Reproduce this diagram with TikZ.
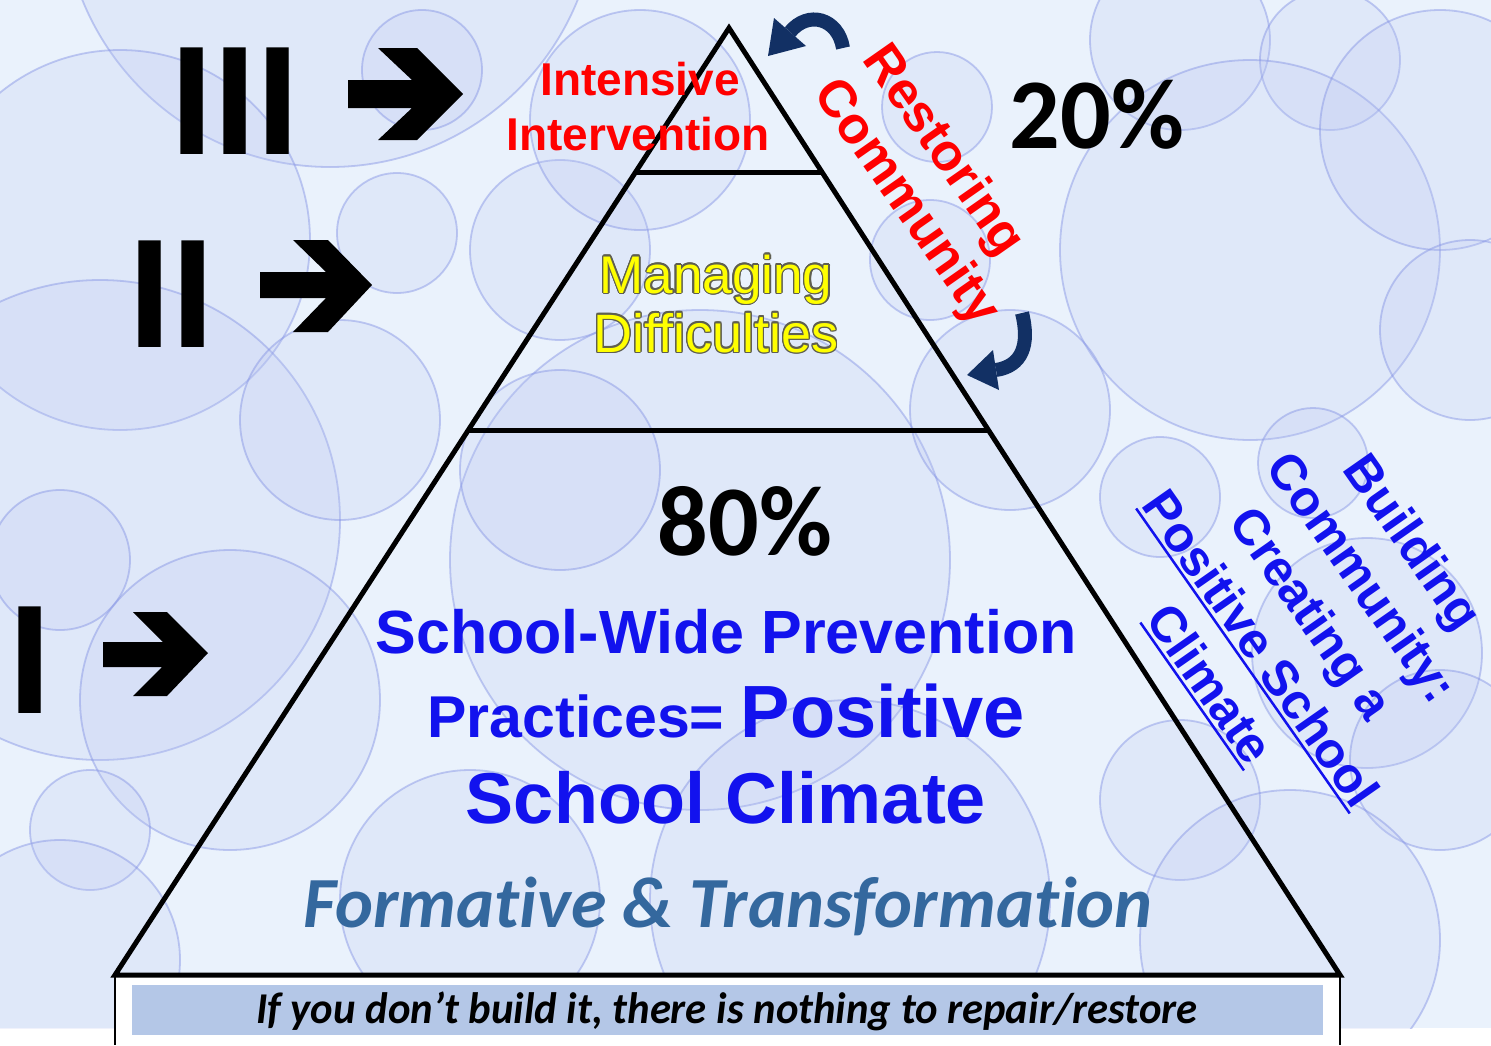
\documentclass[tikz,border=0pt]{standalone}
\usepackage{fontspec}
\usepackage{contour}
\setmainfont{Liberation Sans}
\newfontfamily\calib[Ligatures=NoCommon]{Carlito}
\usetikzlibrary{calc}
\definecolor{bgblue}{RGB}{234,242,252}
\definecolor{bubfill}{RGB}{188,200,242}
\definecolor{bubline}{RGB}{130,145,228}
\definecolor{tblue}{RGB}{18,18,238}
\definecolor{fblue}{RGB}{52,104,158}
\definecolor{navy}{RGB}{18,48,100}
\definecolor{banner}{RGB}{180,199,231}
\definecolor{tred}{RGB}{255,0,0}
\definecolor{tyellow}{RGB}{255,255,0}
\definecolor{outl}{RGB}{95,95,80}
\newcommand\myul[1]{\setbox0\hbox{#1}\rlap{\rule[-6pt]{\wd0}{2.5pt}}\box0}
\newcommand\fsz[2]{\fontsize{#1}{#2}\selectfont}
\contourlength{1.4pt}
\begin{document}
\begin{tikzpicture}[x=1pt,y=-1pt, line join=miter,
  bubble/.style={fill=bubfill, fill opacity=0.22, draw=bubline, draw opacity=0.45, line width=1.8pt},
  tier/.style={line width=5pt, draw=black},
  lbl/.style={inner sep=0pt, anchor=base},
  blockarrow/.style={fill=black},
  curv/.style={draw=navy, line width=14pt},
  ]
\useasboundingbox (0,0) rectangle (1491,1045);
\fill[white] (0,0) rectangle (1491,1045);
\fill[bgblue] (0,0) rectangle (1491,1028);
\begin{scope}
\clip (0,0) rectangle (1491,1028);
\foreach \x/\y/\r in {330/-100/267, 120/240/190, 100/520/240, 422/70/60, 397/233/60,
  340/420/100, 60/560/70, 230/700/150, 90/830/60, 60/960/120, 1180/40/90, 1330/60/70,
  1250/250/190, 1440/130/120, 1470/330/90, 1160/497/60, 1313/463/55, 1367/653/115,
  1180/800/80, 1440/760/90, 937/107/55, 930/260/60, 700/560/250, 560/470/100,
  850/900/200, 1010/410/100, 560/250/90, 1290/940/150, 640/120/110, 470/900/130}
  \draw[bubble] (\x,\y) circle[radius=\r];
\end{scope}

% bottom box and banner
\fill[white] (115,975) rectangle (1340,1045);
\draw[line width=1.5pt] (115,975) -- (115,1045);
\draw[line width=1.5pt] (1340,975) -- (1340,1045);
\fill[banner] (132,985) rectangle (1323,1035);
\node[lbl, font={\calib\fsz{44}{44}\bfseries\itshape}, xscale=0.97] (motto) at (727,1023) {If you don’t build it, there is nothing to repair/restore};

% pyramid
\coordinate (A) at (729,28);
\coordinate (L) at (115,975);
\coordinate (R) at (1340,975);
\draw[tier] (A) -- (L) -- (R) -- cycle;
\draw[tier] ($(A)!0.1531!(L)$) -- ($(A)!0.1531!(R)$);
\draw[tier] ($(A)!0.4245!(L)$) -- ($(A)!0.4245!(R)$);

% roman numerals
\node[lbl, anchor=base west, font={\fsz{155}{155}\bfseries}] (n3) at (170,154) {III};
\node[lbl, anchor=base west, font={\fsz{155}{155}\bfseries}] (n2) at (128,347) {II};
\node[lbl, anchor=base west, font={\fsz{155}{155}\bfseries}] (n1) at (8,713) {I};

% block arrows
\fill[blockarrow] (348,80) -- (412,80) -- (378,48) -- (417,48) -- (463,94) -- (417,140) -- (378,140) -- (412,108) -- (348,108) -- cycle;
\fill[blockarrow] (260,272) -- (326,272) -- (293,240) -- (328,240) -- (372,285) -- (328,332) -- (293,332) -- (326,298) -- (260,298) -- cycle;
\fill[blockarrow] (103,642) -- (163,642) -- (133,612) -- (167,612) -- (208,653) -- (167,696) -- (133,696) -- (162,667) -- (103,667) -- cycle;

% tier texts
\node[lbl, text=tred, font={\fsz{46}{50}\bfseries}] (int1) at (640,95) {Intensive};
\node[lbl, text=tred, font={\fsz{46}{50}\bfseries}] (int2) at (638,150) {Intervention};
\node[lbl, text=tyellow, font={\fsz{53}{55}}] (man1) at (716,293) {\contour{outl}{Managing}};
\node[lbl, text=tyellow, font={\fsz{54}{55}}] (man2) at (716,352) {\contour{outl}{Difficulties}};
\node[lbl, font={\calib\fsz{100}{100}\bfseries}] (p80) at (745,555) {80\%};
\node[lbl, font={\calib\fsz{100}{100}\bfseries}] (p20) at (1097,148) {20\%};
\node[lbl, text=tblue, font={\fsz{61}{62}\bfseries}] (sw1) at (726,653) {School-Wide Prevention};
\node[lbl, text=tblue, font={\bfseries}] (sw2) at (726,737) {{\fsz{59}{60}\bfseries Practices= }{\fsz{74}{75}\bfseries Positive}};
\node[lbl, text=tblue, font={\fsz{72}{75}\bfseries}] (sw3) at (726,823) {School Climate};
\node[lbl, text=fblue, font={\calib\fsz{72}{72}\bfseries\itshape}] (form) at (728,927) {Formative \& Transformation};

% rotated texts
\node[text=tred, font={\fsz{52}{60}\bfseries}, rotate=-55, align=left, inner sep=0pt] (rest) at (930,186) {Restoring\\Community};
\node[text=tblue, font={\fsz{50}{62}\bfseries}, rotate=-55, align=center, inner sep=0pt] (build) at (1310,614) {Building\\Community:\\Creating a\\\myul{Positive School}\\\myul{Climate}};

% curved arrows
\draw[curv] (843,48) .. controls (838,18) and (808,10) .. (790,32);
\fill[navy] (774,18) -- (806,46) -- (768,56) -- cycle;
\draw[curv] (1022,313) .. controls (1030,345) and (1022,366) .. (996,370);
\fill[navy] (993,350) -- (999,390) -- (967,375) -- cycle;
\end{tikzpicture}
\end{document}
